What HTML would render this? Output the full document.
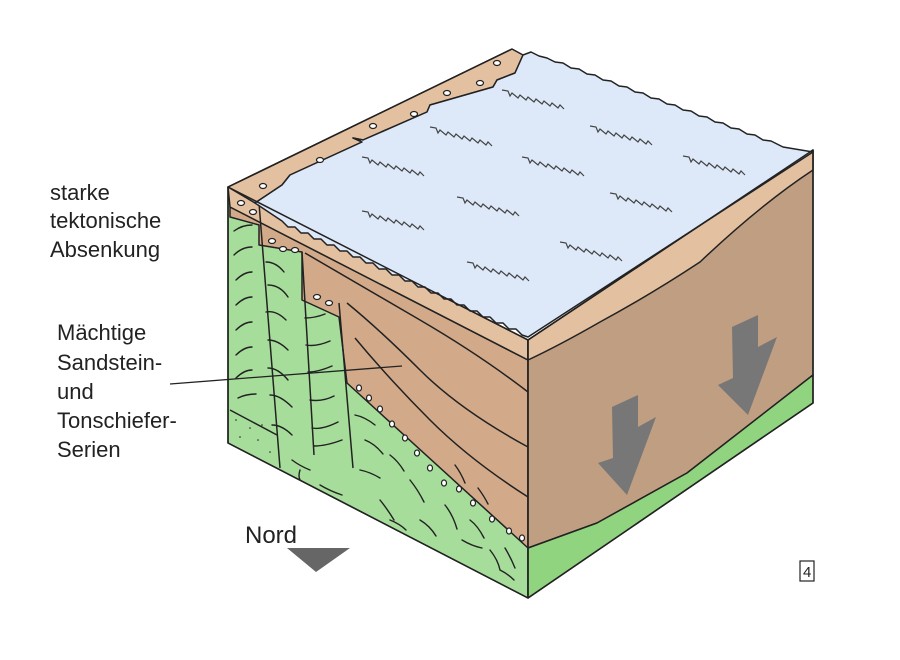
<!DOCTYPE html>
<html><head><meta charset="utf-8"><style>
html,body{margin:0;padding:0;background:#fff;width:900px;height:660px;overflow:hidden}
svg{display:block}
text{font-family:"Liberation Sans","DejaVu Sans",sans-serif;fill:#222}
</style></head><body>
<svg width="900" height="660" viewBox="0 0 900 660" xmlns="http://www.w3.org/2000/svg">
<defs><clipPath id="lf"><polygon points="228,187 528,340 528,598 228,443"/></clipPath>
<path id="zz" d="M0,0 l6,1 2,5 2,-3 6,5 2,-3 6,5 2,-3 6,5 2,-3 6,5 2,-3 6,5 2,-3 6,5 2,-3 4,4"/></defs>
<g stroke="#222" stroke-width="1.5" stroke-linejoin="round" fill="none">
<polygon points="228,187 528,340 528,598 228,443" fill="#a7dd9b"/>
<path d="M230,410 L277,435" />
<polygon points="230,207 528,360 528,548 347,383 339,317 302,300 302,252 259,245 259,225 230,217" fill="#d2aa8a"/>
<polygon points="228,187 528,340 528,360 230,207" fill="#e3c0a0"/>
<path d="M259,203 L280,468 M302,252 L314,455 M339,303 L353,468"/>
<path d="M305,253 Q360,285 420,320 T528,392"/>
<path d="M347,303 Q380,330 420,370 T528,447"/>
<path d="M355,338 Q390,380 430,420 T528,497"/>
<polygon points="528,340 813,150 813,375 687,473 597,523 528,548" fill="#c09e82"/>
<polygon points="528,548 597,523 687,473 813,375 813,403 528,598" fill="#90d480"/>
<path d="M528,340 L813,150 L813,170 Q760,205 700,262 Q650,295 600,322 Q560,345 528,360 Z" fill="#e3c0a0"/>
<polygon points="228,187 512,49 523,55 515,73 497,80 493,87 430,105 427,112 363,140 353,138 362,142 290,175 282,185 255,203" fill="#e3c0a0"/>
<path d="M523,55 l8,-3 8,4 8,2 8,4 8,1 8,5 8,1 8,5 8,1 8,5 8,1 8,5 8,1 8,5 8,1 8,5 8,1 8,5 8,1 8,5 8,1 8,5 8,1 8,5 8,1 8,5 8,1 8,5 8,1 8,5 8,1 8,4 4,2 L813,152 L528,337 l-6,-2 -6,-6 -7,0 -6,-6 -7,0 -6,-6 -7,0 -6,-6 -7,0 -6,-6 -7,0 -6,-6 -7,0 -6,-6 -7,0 -6,-6 -7,0 -6,-6 -7,0 -6,-6 -7,0 -6,-6 -7,0 -6,-6 -7,0 -6,-6 -7,0 -6,-6 -7,0 -6,-6 -7,0 -6,-6 -7,0 -6,-6 -7,0 -6,-6 -7,0 -6,-6 L255,203 L282,185 290,175 362,142 353,138 363,140 427,112 430,105 493,87 497,80 515,73 Z" fill="#dde9f9"/>
<path d="M228,187 L512,49 M528,340 L528,598 M228,187 L228,443 L528,598 L813,403 L813,150 L528,340 L228,187"/>
<path d="M170,384 L402,366" stroke-width="1.3"/>
</g>
<g fill="#fff" stroke="#222" stroke-width="1.2">
<ellipse cx="497" cy="63" rx="3.5" ry="2.5"/><ellipse cx="480" cy="83" rx="3.5" ry="2.5"/><ellipse cx="447" cy="93" rx="3.5" ry="2.5"/><ellipse cx="414" cy="114" rx="3.5" ry="2.5"/><ellipse cx="373" cy="126" rx="3.5" ry="2.5"/><ellipse cx="320" cy="160" rx="3.5" ry="2.5"/><ellipse cx="263" cy="186" rx="3.5" ry="2.5"/>
<ellipse cx="241" cy="203" rx="3.5" ry="2.5"/><ellipse cx="253" cy="212" rx="3.5" ry="2.5"/>
<ellipse cx="272" cy="241" rx="3.5" ry="2.5"/><ellipse cx="283" cy="249" rx="3.5" ry="2.5"/><ellipse cx="295" cy="250" rx="3.5" ry="2.5"/>
<ellipse cx="317" cy="297" rx="3.5" ry="2.5"/><ellipse cx="329" cy="303" rx="3.5" ry="2.5"/>
<ellipse cx="359" cy="388" rx="2.5" ry="3"/><ellipse cx="369" cy="398" rx="2.5" ry="3"/><ellipse cx="380" cy="409" rx="2.5" ry="3"/><ellipse cx="392" cy="424" rx="2.5" ry="3"/><ellipse cx="405" cy="438" rx="2.5" ry="3"/><ellipse cx="417" cy="453" rx="2.5" ry="3"/><ellipse cx="430" cy="468" rx="2.5" ry="3"/><ellipse cx="444" cy="483" rx="2.5" ry="3"/><ellipse cx="459" cy="489" rx="2.5" ry="3"/><ellipse cx="473" cy="503" rx="2.5" ry="3"/><ellipse cx="492" cy="519" rx="2.5" ry="3"/><ellipse cx="509" cy="531" rx="2.5" ry="3"/><ellipse cx="522" cy="538" rx="2.5" ry="3"/>
</g>
<g stroke="#222" stroke-width="1.4" fill="none" stroke-linecap="round" clip-path="url(#lf)">
<path d="M234,231 q8,-6 18,-6 M234,255 q8,-8 18,-8 M236,280 q8,-8 16,-8 M236,305 q8,-8 16,-8 M236,330 q8,-8 16,-8 M236,355 q8,-8 16,-8 M236,378 q8,-8 16,-8 M238,398 q8,-4 18,-4"/>
<path d="M266,262 q10,0 18,10 M268,285 q12,0 20,12 M266,312 q10,-2 20,8 M268,340 q10,0 20,10 M268,368 q10,0 20,12 M270,395 q10,0 22,12 M272,425 q10,0 20,10"/>
<path d="M305,318 q10,0 20,-4 M306,345 q10,2 24,-4 M308,372 q10,0 24,-6 M310,400 q12,2 24,-4 M312,428 q10,2 26,-6 M314,446 q12,0 28,-6"/>
<path d="M292,460 q8,6 18,10 M320,485 q10,6 22,10 M360,470 q10,2 20,8 M380,500 q8,10 14,20 M410,480 q8,10 14,22 M420,520 q10,6 16,16 M445,505 q8,10 12,24 M462,540 q10,6 20,8 M470,520 q8,6 14,18 M490,550 q8,10 10,20 M500,570 q8,4 14,10 M440,555 q10,2 20,12"/>
<path d="M355,415 q10,2 20,10 M365,440 q10,4 18,14 M390,455 q8,6 14,16 M455,465 q6,8 10,18 M478,488 q6,8 10,16 M505,548 q6,10 10,20 M300,470 q-2,6 0,10 M390,520 q10,4 16,10"/>
</g>
<g fill="#222"><circle cx="236" cy="420" r=".8"/><circle cx="250" cy="428" r=".8"/><circle cx="262" cy="425" r=".8"/><circle cx="240" cy="437" r=".8"/><circle cx="258" cy="440" r=".8"/><circle cx="270" cy="452" r=".8"/></g>
<g stroke="#444" stroke-width="1.2" fill="none">
<use href="#zz" x="502" y="90"/><use href="#zz" x="430" y="127"/><use href="#zz" x="590" y="126"/>
<use href="#zz" x="362" y="157"/><use href="#zz" x="522" y="157"/><use href="#zz" x="683" y="156"/>
<use href="#zz" x="457" y="197"/><use href="#zz" x="610" y="193"/><use href="#zz" x="362" y="211"/>
<use href="#zz" x="560" y="242"/><use href="#zz" x="467" y="262"/>
</g>
<polygon points="612,407 638,395 638,427 656,417 627,495 598,463 613,458" fill="#777"/>
<polygon points="732,327 758,315 758,347 777,337 748,415 718,385 733,378" fill="#777"/>
<polygon points="287,548 350,548 316,572" fill="#666"/>
<text x="245" y="543" font-size="24">Nord</text>
<rect x="800" y="561" width="14" height="20" fill="#fff" stroke="#222" stroke-width="1.2"/>
<text x="803" y="577" font-size="15">4</text>
<g font-size="22">
<text x="50" y="200">starke</text>
<text x="50" y="228">tektonische</text>
<text x="50" y="257">Absenkung</text>
<text x="57" y="340">Mächtige</text>
<text x="57" y="370">Sandstein-</text>
<text x="57" y="399">und</text>
<text x="57" y="428">Tonschiefer-</text>
<text x="57" y="457">Serien</text>
</g>
</svg>
</body></html>
